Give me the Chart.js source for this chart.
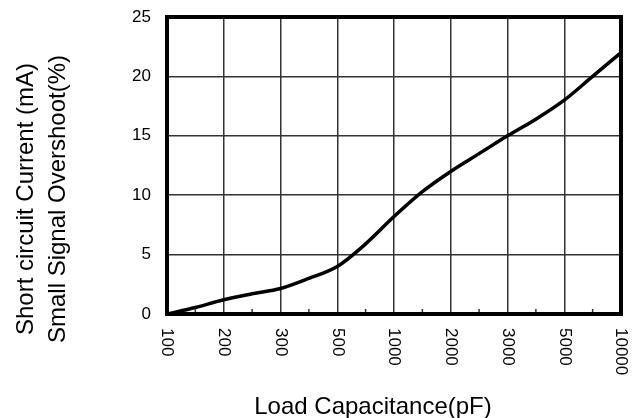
<!DOCTYPE html>
<html>
<head>
<meta charset="utf-8">
<script src="https://cdn.jsdelivr.net/npm/chart.js@4.4.0/dist/chart.umd.min.js"></script>
<style>
  html, body { margin: 0; padding: 0; background: #fff; }
  #wrap { width: 633px; height: 418px; }
</style>
</head>
<body>
<div id="wrap"><canvas id="capChart" width="633" height="418"></canvas></div>
<script>
// x categories (equally spaced, not a true log scale)
const capLabels = ['100', '200', '300', '500', '1000', '2000', '3000', '5000', '10000'];
// curve points, x given as position along the category axis
const curveX = [0, 0.5, 1, 1.5, 2, 2.5, 3, 3.5, 4, 4.5, 5, 5.5, 6, 6.5, 7, 7.5, 8];
const curveY = [0, 0.55, 1.2, 1.7, 2.15, 3.0, 4.0, 5.9, 8.2, 10.3, 12.0, 13.5, 15.0, 16.4, 18.0, 20.0, 22.0];
const yTicks = [0, 5, 10, 15, 20, 25];

const xTitle = 'Load Capacitance(pF)';
const yTitle = ['Short circuit Current (mA)', 'Small Signal Overshoot(%)'];

const FONT = '"Liberation Sans", Arial, sans-serif';

// frame, minor ticks, rotated category labels and axis titles
const extras = {
  id: 'extras',
  afterDraw(chart) {
    const { ctx, chartArea: a, scales: { x } } = chart;
    ctx.save();

    // small ticks half way between categories
    ctx.strokeStyle = '#333';
    ctx.lineWidth = 1.5;
    for (let i = 0; i < capLabels.length - 1; i++) {
      const px = x.getPixelForValue(i + 0.5);
      ctx.beginPath();
      ctx.moveTo(px, a.bottom);
      ctx.lineTo(px, a.bottom - 5);
      ctx.stroke();
    }

    // heavy box round the plot
    ctx.strokeStyle = '#000';
    ctx.lineWidth = 4;
    ctx.strokeRect(a.left, a.top, a.right - a.left, a.bottom - a.top);

    // category labels, turned clockwise
    ctx.fillStyle = '#000';
    ctx.font = '17px ' + FONT;
    ctx.textAlign = 'left';
    ctx.textBaseline = 'middle';
    capLabels.forEach((lab, i) => {
      ctx.save();
      ctx.translate(x.getPixelForValue(i), a.bottom + 14);
      ctx.rotate(Math.PI / 2);
      ctx.fillText(lab, 0, 0);
      ctx.restore();
    });

    // axis titles
    ctx.font = '24px ' + FONT;
    ctx.textAlign = 'center';
    ctx.textBaseline = 'alphabetic';
    ctx.fillText(xTitle, 373, 414);

    [33, 65].forEach((bx, i) => {
      ctx.save();
      ctx.translate(bx, 199);
      ctx.rotate(-Math.PI / 2);
      ctx.fillText(yTitle[i], 0, 0);
      ctx.restore();
    });

    ctx.restore();
  }
};

const ctx = document.getElementById('capChart').getContext('2d');

new Chart(ctx, {
  type: 'line',
  data: {
    datasets: [{
      data: curveX.map((v, i) => ({ x: v, y: curveY[i] })),
      borderColor: '#000',
      borderWidth: 3.5,
      pointRadius: 0,
      cubicInterpolationMode: 'monotone',
      fill: false
    }]
  },
  options: {
    responsive: false,
    animation: false,
    layout: { padding: { top: 17, right: 12, left: 0, bottom: 0 } },
    plugins: {
      legend: { display: false },
      tooltip: { enabled: false }
    },
    scales: {
      x: {
        type: 'linear',
        min: 0,
        max: capLabels.length - 1,
        ticks: { display: false, stepSize: 1 },
        grid: { color: '#333', lineWidth: 1.5, drawTicks: false },
        border: { display: false },
        afterFit: (scale) => { scale.height = 104; }
      },
      y: {
        min: yTicks[0],
        max: yTicks[yTicks.length - 1],
        afterBuildTicks: (scale) => { scale.ticks = yTicks.map(v => ({ value: v })); },
        ticks: {
          color: '#000',
          padding: 16,
          font: { family: FONT, size: 17 }
        },
        grid: { color: '#333', lineWidth: 1.5, drawTicks: false },
        border: { display: false },
        afterFit: (scale) => {
          scale.width = 167;
          // tick padding would otherwise push the plot top down
          scale.paddingTop = 10;
          scale.paddingBottom = 10;
        }
      }
    }
  },
  plugins: [extras]
});
</script>
</body>
</html>
